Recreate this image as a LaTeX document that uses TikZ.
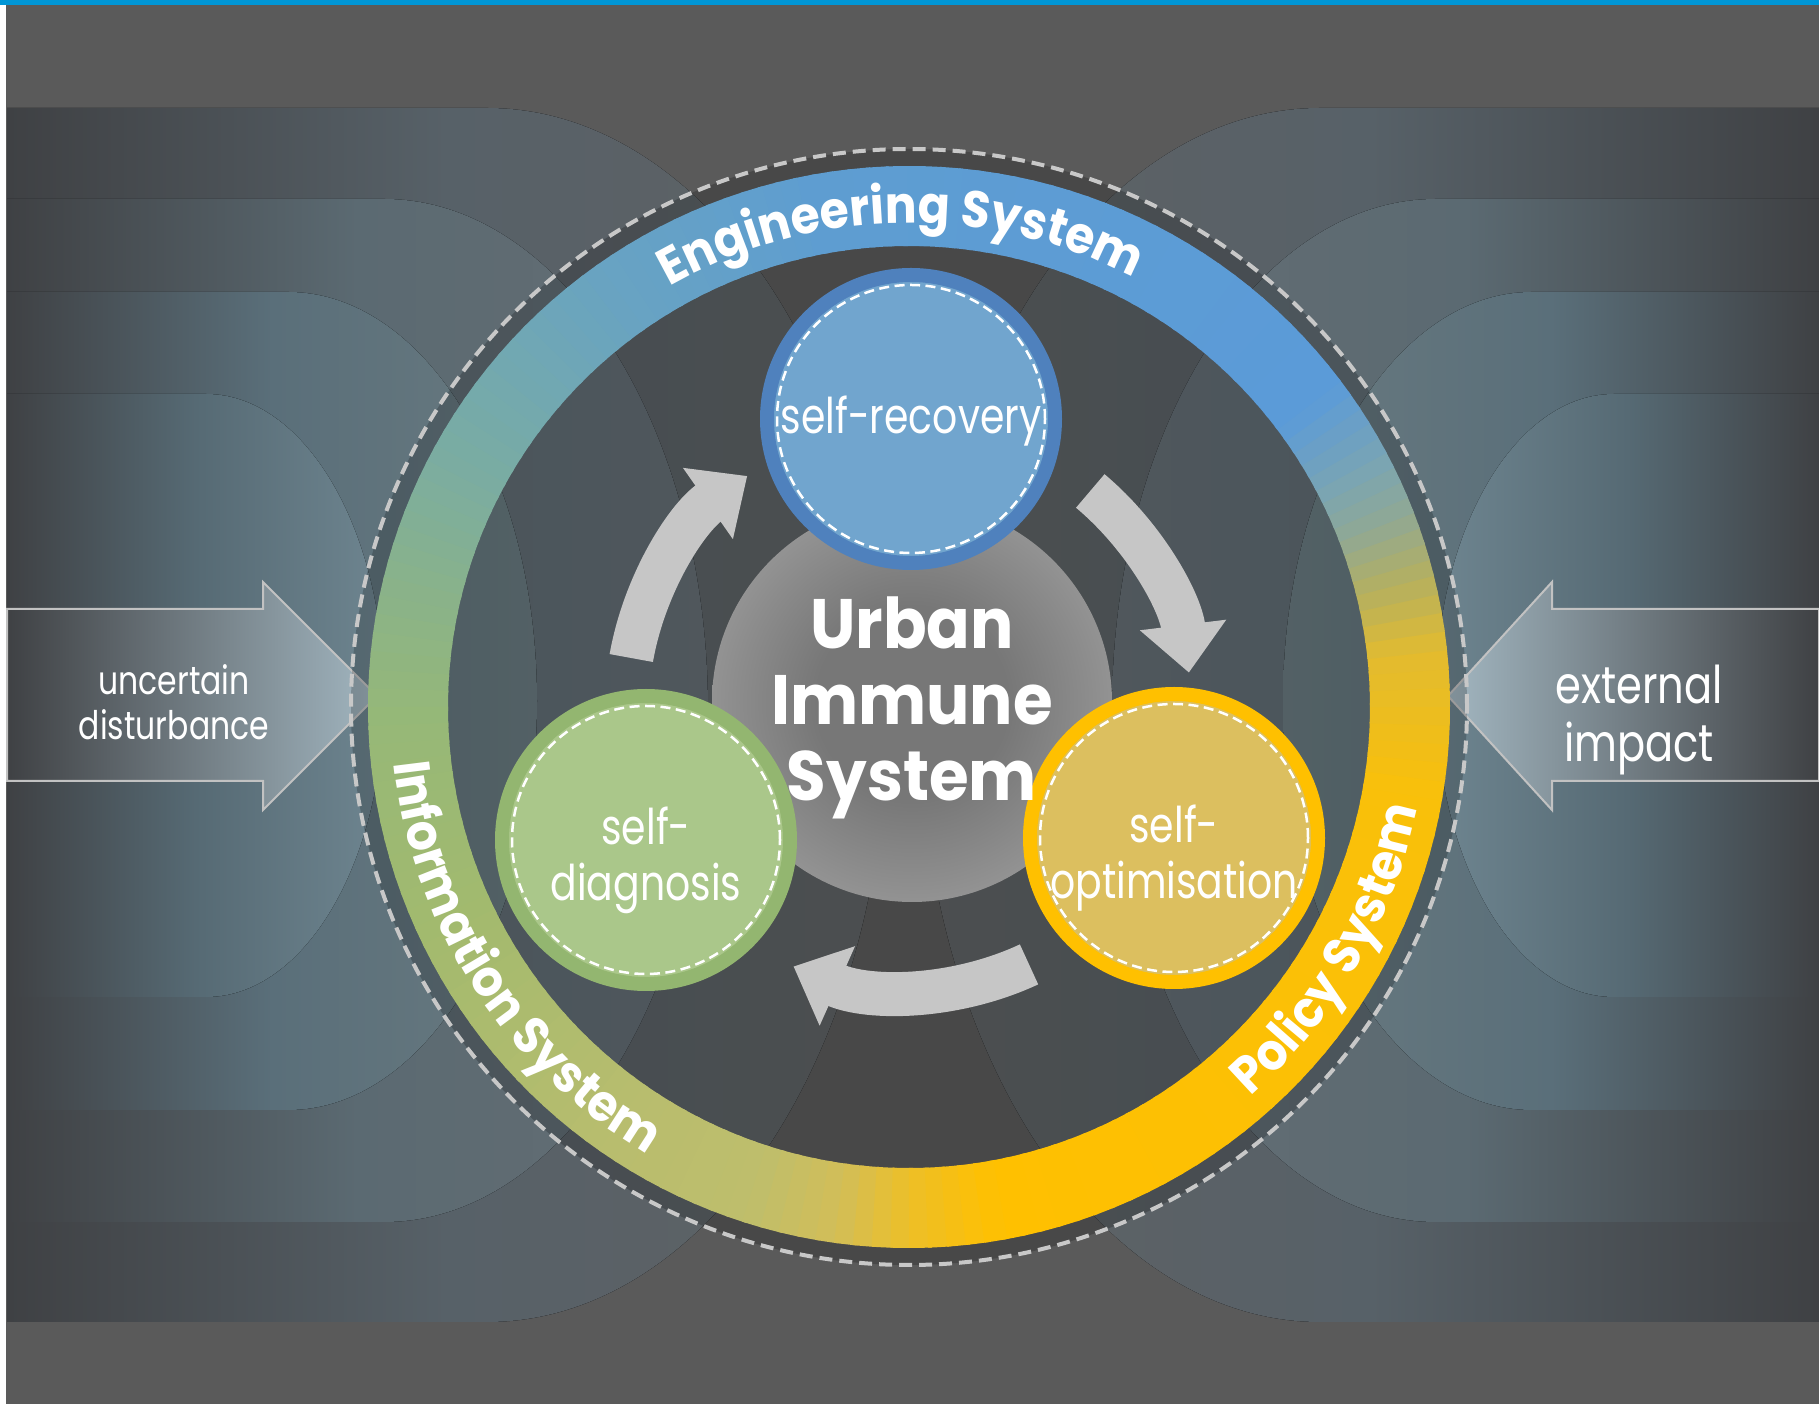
\documentclass[tikz,border=0pt]{standalone}
\usepackage{fontspec}
\usetikzlibrary{arrows.meta,decorations.text}
\newfontfamily\uislight{Poppins}[FakeStretch=0.8]
\newfontfamily\uisheavy{Poppins}[FakeStretch=0.92]
\newcommand\ringfont{\uisheavy\bfseries\fontsize{14.6pt}{18pt}\selectfont\color{white}}

\definecolor{bggrey}{HTML}{5A5A5A}
\definecolor{topblue}{HTML}{0096D6}
\definecolor{edgedark}{HTML}{3F4144}
\definecolor{waveA}{HTML}{576168}
\definecolor{waveAr}{HTML}{5F6264}
\definecolor{waveB}{HTML}{5B6A72}
\definecolor{waveBr}{HTML}{646D73}
\definecolor{waveC}{HTML}{5A6F7A}
\definecolor{waveCr}{HTML}{68797F}
\definecolor{waveD}{HTML}{566A74}
\definecolor{waveDr}{HTML}{6E8590}
\definecolor{arrowlight}{HTML}{A2B6C0}
\definecolor{outlinegrey}{HTML}{C2C2C2}
\definecolor{dashgrey}{HTML}{C8C8C8}
\definecolor{arrowgrey}{HTML}{C6C6C6}
\definecolor{coremid}{HTML}{777777}
\definecolor{coreedge}{HTML}{A8A8A8}
\definecolor{recoveryfill}{HTML}{71A5CE}
\definecolor{recoveryrim}{HTML}{4F81BD}
\definecolor{diagnosisfill}{HTML}{AAC78A}
\definecolor{diagnosisrim}{HTML}{93B670}
\definecolor{optimfill}{HTML}{DCBF5F}
\definecolor{optimrim}{HTML}{FFC000}
\definecolor{rs0}{HTML}{FFC000}
\definecolor{rs1}{HTML}{F9C00A}
\definecolor{rs2}{HTML}{E2BB30}
\definecolor{rs3}{HTML}{B4B060}
\definecolor{rs4}{HTML}{90A894}
\definecolor{rs5}{HTML}{78A4B6}
\definecolor{rs6}{HTML}{5B9BD8}
\definecolor{rs7}{HTML}{5E9DD1}
\definecolor{rs8}{HTML}{68A3C2}
\definecolor{rs9}{HTML}{7AACA2}
\definecolor{rs10}{HTML}{89B28A}
\definecolor{rs11}{HTML}{96B877}
\definecolor{rs12}{HTML}{A3BA6E}
\definecolor{rs13}{HTML}{B8BD6E}
\definecolor{rs14}{HTML}{BEBE6C}
\definecolor{rs15}{HTML}{D2BE58}
\definecolor{rs16}{HTML}{EDBF28}
\pgfdeclareradialshading{coreglow}{\pgfpoint{0bp}{0bp}}{color(0bp)=(coremid); color(12bp)=(coremid); color(35bp)=(coreedge); color(50bp)=(coreedge)}

\begin{document}
\begin{tikzpicture}[x=0.1mm, y=0.1mm,
	sidearrow/.style = {draw=outlinegrey, line width=0.2mm},
	sidetext/.style = {text=white, align=center, inner sep=0pt},
	darkdisc/.style = {fill=black, opacity=0.2},
	dashring/.style = {draw=dashgrey, line width=0.4mm, dash pattern=on 1.3mm off 0.7mm},
	ringpiece/.style = {line width=8mm},
	cyclearrow/.style = {draw=arrowgrey, line width=4.4mm, -{Triangle[width=8.4mm, length=4.8mm]}},
	bubble/.style = {circle, line width=1.4mm, minimum size=28.8mm, inner sep=0pt},
	innerdash/.style = {draw=white, line width=0.25mm, dash pattern=on 1mm off 0.55mm},
	bubbletext/.style = {text=white, align=center, font=\uislight\fontsize{14pt}{15.9pt}\selectfont},
	coretext/.style = {text=white, align=center, font=\uisheavy\bfseries\fontsize{19.9pt}{21.6pt}\selectfont},
]
\useasboundingbox (0,0) rectangle (1819,1404);
\fill[bggrey] (0,0) rectangle (1819,1404);
\fill[topblue] (0,1399) rectangle (1819,1404);
\fill[white] (0,0) rectangle (6,1399);

% waves behind the ring
\foreach \yt/\yb/\cl/\cr/\rx/\mc/\rc in {1296/82/487/1320/400/waveA/waveAr, 1205/182/384/1436/324/waveB/waveBr, 1112/294/288/1532/249/waveC/waveCr, 1010/407/206/1614/178/waveD/waveDr}{
	\pgfmathsetmacro\ry{(\yt-\yb)/2}
	\fill[left color=edgedark, right color=\rc, middle color=\mc] (7,\yb) -- (\cl,\yb) arc[start angle=-90, end angle=90, x radius=\rx, y radius=\ry] -- (7,\yt) -- cycle;
	\fill[left color=\rc, right color=edgedark, middle color=\mc] (1819,\yb) -- (\cr,\yb) arc[start angle=-90, end angle=-270, x radius=\rx, y radius=\ry] -- (1819,\yt) -- cycle;
}

\coordinate (C) at (909,697);

\filldraw[sidearrow, left color=edgedark, right color=arrowlight] (7,795) -- (263,795) -- (263,822) -- (377,708) -- (263,594) -- (263,623) -- (7,623) -- cycle;
\filldraw[sidearrow, left color=arrowlight, right color=edgedark] (1819,795) -- (1552,795) -- (1552,822) -- (1448,708) -- (1552,594) -- (1552,623) -- (1819,623) -- cycle;
\node[sidetext, font=\uislight\fontsize{11.2pt}{12.8pt}\selectfont] (disturb) at (174,702) {uncertain\\disturbance};
\node[sidetext, font=\uislight\fontsize{14.8pt}{16.4pt}\selectfont] (impact) at (1639,684) {external\\impact};

\fill[darkdisc] (C) circle (558);
\draw[dashring] (C) circle (558);

% colour ring
\foreach \a/\b/\ca/\cb in {-80/-10/rs0/rs1, -10/6/rs1/rs2, 6/14/rs2/rs3, 14/21/rs3/rs4, 21/28/rs4/rs5, 28/37/rs5/rs6, 37/100/rs6/rs7, 100/125/rs7/rs8, 125/151/rs8/rs9, 151/166/rs9/rs10, 166/182/rs10/rs11, 182/206/rs11/rs12, 206/235/rs12/rs13, 235/252/rs13/rs14, 252/262/rs14/rs15, 262/270/rs15/rs16, 270/280/rs16/rs0}{
	\pgfmathtruncatemacro\nseg{max(1,round((\b-\a)/2))}
	\foreach \k in {1,...,\nseg}{
		\pgfmathsetmacro\ta{\a+(\b-\a)*(\k-1)/\nseg}
		\pgfmathsetmacro\tb{\a+(\b-\a)*\k/\nseg+0.5}
		\pgfmathtruncatemacro\pct{100*(\k-0.5)/\nseg}
		\draw[ringpiece, draw=\cb!\pct!\ca] ([shift={(\ta:501)}]C) arc[start angle=\ta, end angle=\tb, radius=501];
	}
}

\path[decorate, decoration={text along path, text={|\ringfont|Engineering System}, text align=center}] ([shift={(151:484)}]C) arc[start angle=151, end angle=31, radius=484];
\path[decorate, decoration={text along path, text={|\ringfont|Information System}, text align=center}] ([shift={(153:518)}]C) arc[start angle=153, end angle=273, radius=518];
\path[decorate, decoration={text along path, text={|\ringfont|Policy System}, text align=center}] ([shift={(270:518)}]C) arc[start angle=270, end angle=390, radius=518];

\draw[cyclearrow] ([shift={(170:282)}]C) arc[start angle=170, end angle=125, radius=282];
\draw[cyclearrow] ([shift={(50:282)}]C) arc[start angle=50, end angle=7, radius=282];
\draw[cyclearrow] ([shift={(-65:284)}]C) arc[start angle=-65, end angle=-114, radius=284];

\node[circle, inner sep=0pt, minimum size=40mm, shading=coreglow] (urban) at (912,702) {};
\node[bubble, draw=recoveryrim, fill=recoveryfill] (recovery) at (911,985) {};
\node[bubble, draw=diagnosisrim, fill=diagnosisfill] (diagnosis) at (646,564) {};
\node[bubble, draw=optimrim, fill=optimfill] (optimisation) at (1174,566) {};
\draw[innerdash] (recovery.center) circle (134);
\draw[innerdash] (diagnosis.center) circle (134);
\draw[innerdash] (optimisation.center) circle (134);

\node[bubbletext] at ([yshift=-0.2mm]recovery.center) {self-recovery};
\node[bubbletext] at ([yshift=-2mm]diagnosis.center) {self-\\diagnosis};
\node[bubbletext] at ([yshift=-2mm]optimisation.center) {self-\\optimisation};
\node[coretext] at ([yshift=-0.6mm]urban.center) {Urban\\Immune\\System};
\end{tikzpicture}
\end{document}
